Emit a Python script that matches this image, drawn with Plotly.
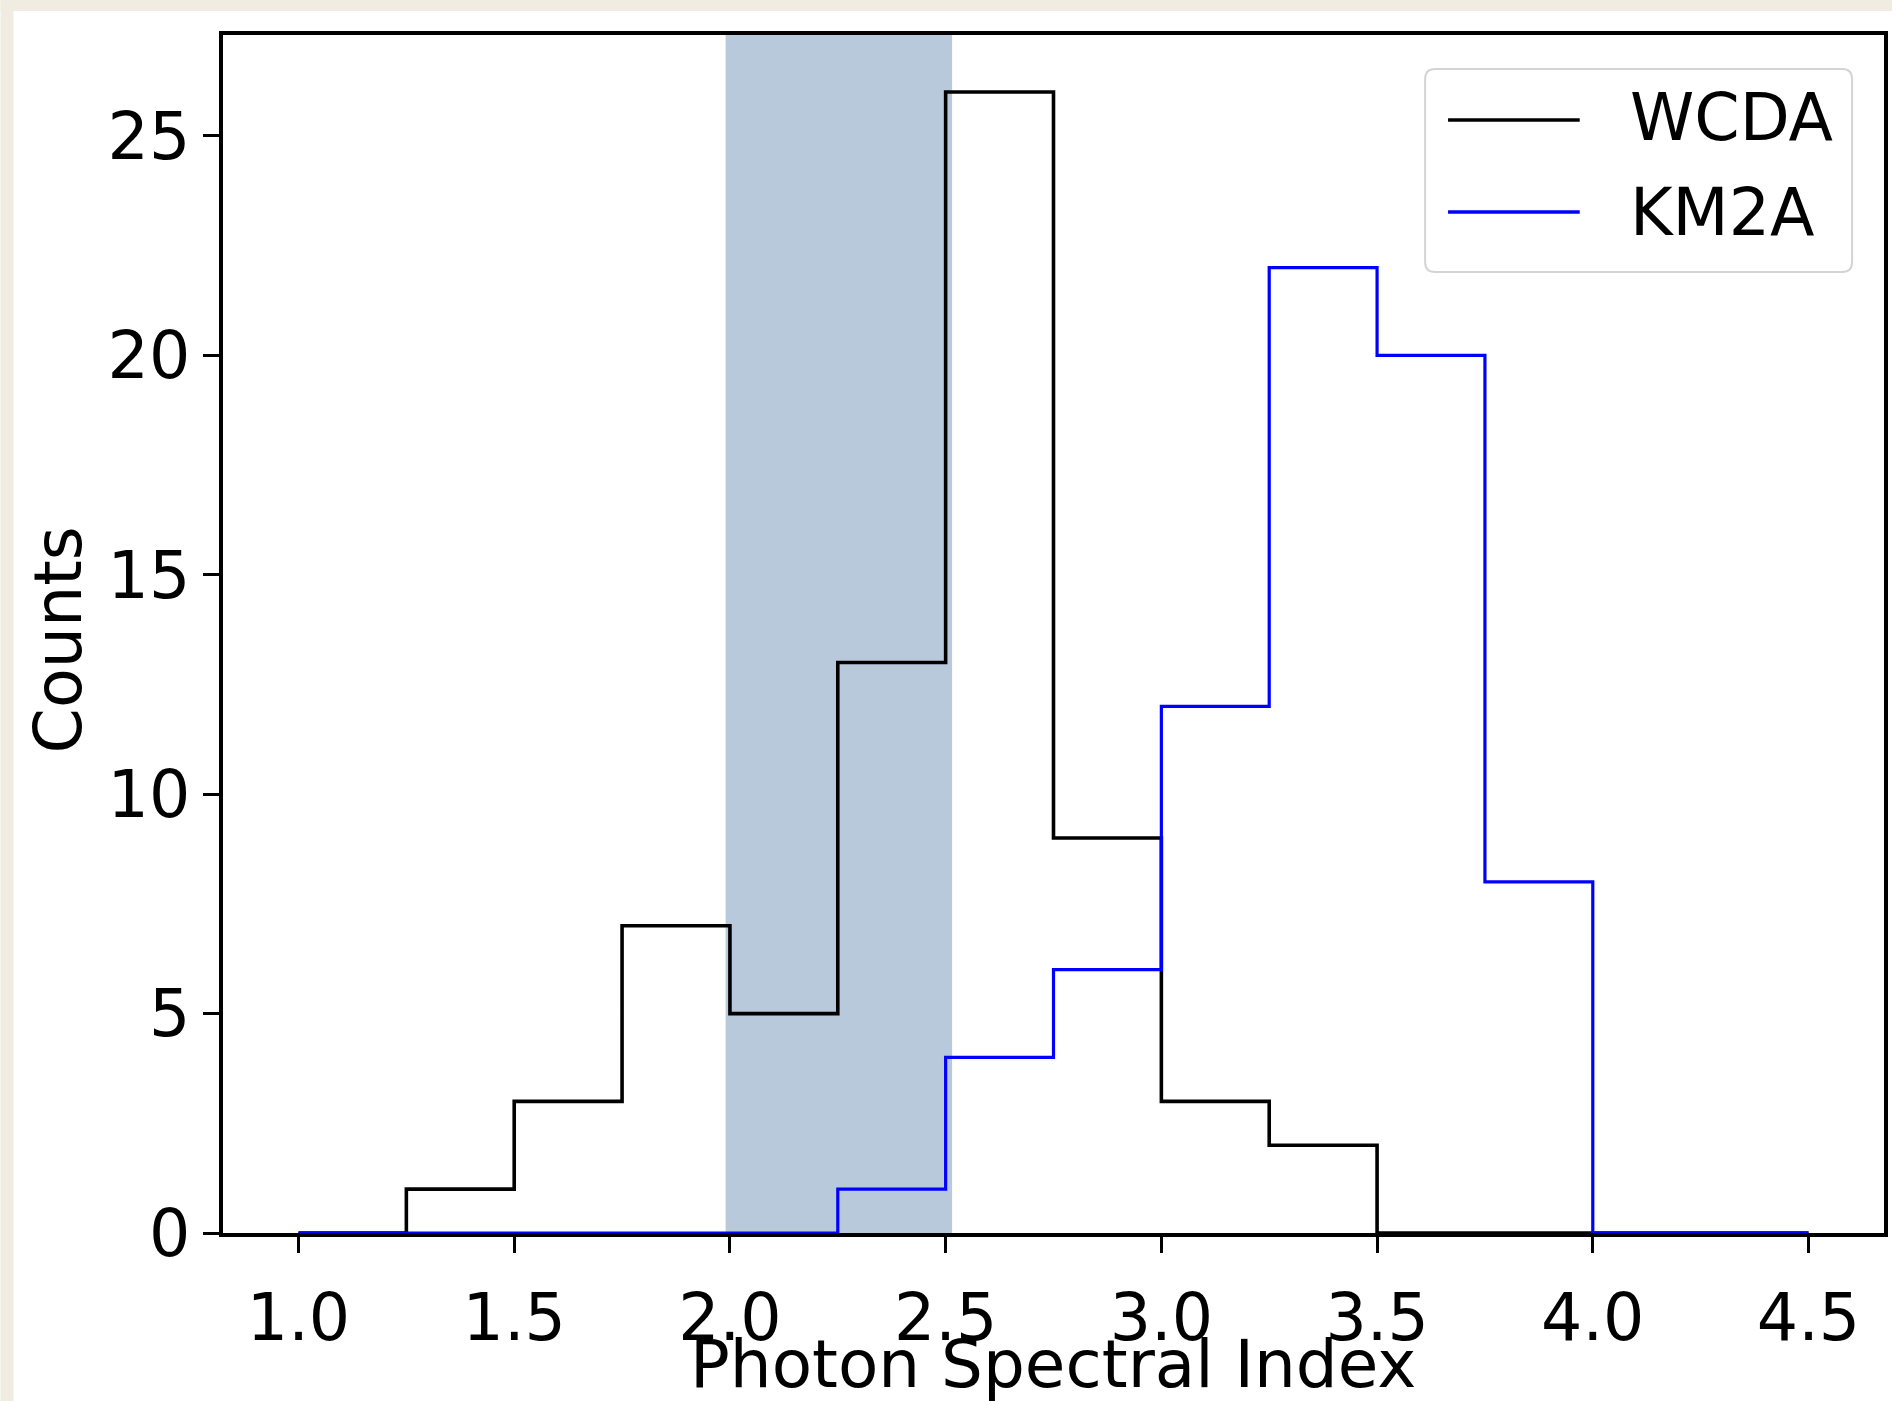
import plotly.graph_objects as go

# Histogram bin edges (photon spectral index) and counts per bin
bin_edges = [1.0, 1.25, 1.5, 1.75, 2.0, 2.25, 2.5, 2.75, 3.0, 3.25, 3.5, 3.75, 4.0, 4.25, 4.5]
wcda_counts = [0, 1, 3, 7, 5, 13, 26, 9, 3, 2, 0, 0, 0, 0]
km2a_counts = [0, 0, 0, 0, 0, 1, 4, 6, 12, 22, 20, 8, 0, 0]
series_names = ["WCDA", "KM2A"]
series_colors = ["#000000", "#0000ff"]

# Highlighted index band
band_range = [1.99, 2.515]

x_ticks = [1.0, 1.5, 2.0, 2.5, 3.0, 3.5, 4.0, 4.5]
y_ticks = [0, 5, 10, 15, 20, 25]

# Page geometry (pixels)
W, H = 1896, 1401
L, R, T, B = 223, 1888, 35, 1233
PW, PH = R - L, B - T
FONT = "DejaVu Sans"
FS = 65


def px_x(px):
    return (px - L) / PW


def px_y(py):
    return (B - py) / PH


def step_xy(edges, counts):
    # 'hv' step: each count held until the next edge
    return list(edges), list(counts) + [counts[-1]]


fig = go.Figure()

for name, counts, color, width in [
    (series_names[0], wcda_counts, series_colors[0], 3.6),
    (series_names[1], km2a_counts, series_colors[1], 3.2),
]:
    xs, ys = step_xy(bin_edges, counts)
    fig.add_trace(go.Scatter(
        x=xs, y=ys, mode="lines", name=name,
        line=dict(color=color, width=width, shape="hv"),
        showlegend=False, hoverinfo="skip",
    ))

shapes = []
# Shaded band behind the histograms
shapes.append(dict(
    type="rect", xref="x", yref="paper",
    x0=band_range[0], x1=band_range[1], y0=0, y1=1,
    fillcolor="rgb(185,201,220)", line=dict(width=0), layer="below",
))

# Paper-coloured border strips on the left and top edges
beige = "rgb(241,236,226)"
shapes.append(dict(type="rect", xref="paper", yref="paper",
                   x0=px_x(0), x1=px_x(13), y0=px_y(H), y1=px_y(0),
                   fillcolor=beige, line=dict(width=0), layer="below"))
shapes.append(dict(type="rect", xref="paper", yref="paper",
                   x0=px_x(0), x1=px_x(W), y0=px_y(11), y1=px_y(0),
                   fillcolor=beige, line=dict(width=0), layer="below"))


# Legend frame: rounded rectangle
def rounded_rect(x0, y0, x1, y1, r):
    def P(x, y):
        return f"{px_x(x):.6f},{px_y(y):.6f}"
    return (
        f"M {P(x0 + r, y0)} L {P(x1 - r, y0)} "
        f"Q {P(x1, y0)} {P(x1, y0 + r)} L {P(x1, y1 - r)} "
        f"Q {P(x1, y1)} {P(x1 - r, y1)} L {P(x0 + r, y1)} "
        f"Q {P(x0, y1)} {P(x0, y1 - r)} L {P(x0, y0 + r)} "
        f"Q {P(x0, y0)} {P(x0 + r, y0)} Z"
    )


shapes.append(dict(
    type="path", xref="paper", yref="paper",
    path=rounded_rect(1428, 69, 1856, 272, 10),
    fillcolor="rgba(255,255,255,0.85)", line=dict(color="#d4d4d4", width=2),
    layer="above",
))

legend_rows = [(120, 118), (212, 213)]
annotations = []
for (line_y, text_y), name, color in zip(legend_rows, series_names, series_colors):
    shapes.append(dict(
        type="line", xref="paper", yref="paper",
        x0=px_x(1451), x1=px_x(1583), y0=px_y(line_y), y1=px_y(line_y),
        line=dict(color=color, width=3.4), layer="above",
    ))
    annotations.append(dict(
        text=name, xref="paper", yref="paper",
        x=px_x(1631), y=px_y(text_y), xanchor="left", yanchor="middle",
        showarrow=False, font=dict(family=FONT, size=FS, color="black"),
    ))

# Axis titles
annotations.append(dict(
    text="Photon Spectral Index", xref="paper", yref="paper",
    x=px_x(1055), y=px_y(1364), xanchor="center", yanchor="middle",
    showarrow=False, font=dict(family=FONT, size=FS + 1, color="black"),
))
annotations.append(dict(
    text="Counts", xref="paper", yref="paper",
    x=px_x(58), y=px_y(640), xanchor="center", yanchor="middle", textangle=-90,
    showarrow=False, font=dict(family=FONT, size=FS, color="black"),
))

axis_common = dict(
    showgrid=False, zeroline=False,
    showline=True, linecolor="black", linewidth=3.5, mirror=True,
    ticks="outside", ticklen=16, tickwidth=3, tickcolor="black",
    tickfont=dict(family=FONT, size=FS, color="black"),
)

fig.update_layout(
    width=W, height=H,
    margin=dict(l=L, r=W - R, t=T, b=H - B, pad=0),
    paper_bgcolor="white", plot_bgcolor="white",
    shapes=shapes, annotations=annotations,
    showlegend=False,
    xaxis=dict(range=[0.825, 4.675], tickvals=x_ticks,
               ticktext=[f"{v:.1f}" for v in x_ticks], ticklabelstandoff=9, **axis_common),
    yaxis=dict(range=[0, 27.3], tickvals=y_ticks,
               ticktext=[str(v) for v in y_ticks], ticklabelstandoff=0, **axis_common),
)

fig.write_html("out.html")
